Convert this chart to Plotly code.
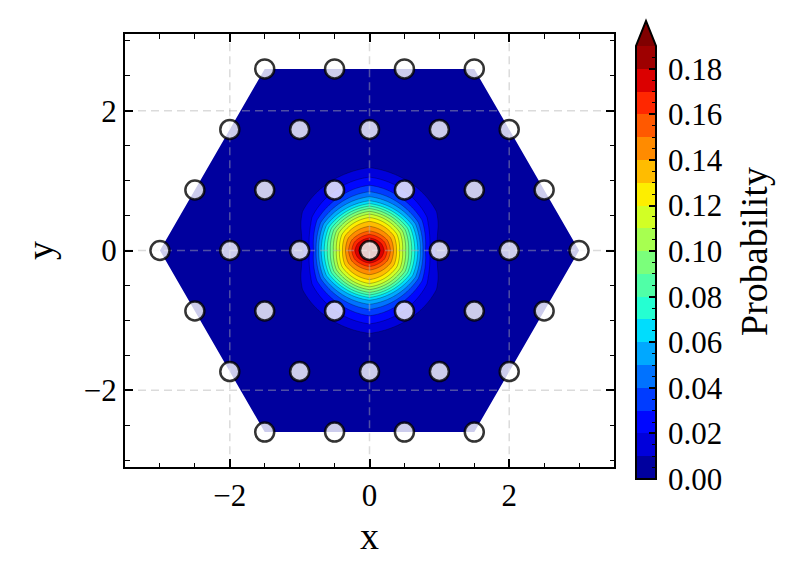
import numpy as np
import plotly.graph_objects as go

# lattice sites (triangular lattice, spacing 1, hexagon of radius 3)
site_x = [-1.5, -0.5, 0.5, 1.5,
          -2.0, -1.0, 0.0, 1.0, 2.0,
          -2.5, -1.5, -0.5, 0.5, 1.5, 2.5,
          -3.0, -2.0, -1.0, 0.0, 1.0, 2.0, 3.0,
          -2.5, -1.5, -0.5, 0.5, 1.5, 2.5,
          -2.0, -1.0, 0.0, 1.0, 2.0,
          -1.5, -0.5, 0.5, 1.5]
site_y = [2.598] * 4 + [1.732] * 5 + [0.866] * 6 + [0.0] * 7 + \
         [-0.866] * 6 + [-1.732] * 5 + [-2.598] * 4

# hexagonal sample region
hex_x = [-3.0, -1.5, 1.5, 3.0, 1.5, -1.5, -3.0]
hex_y = [0.0, 2.598, 2.598, 0.0, -2.598, -2.598, 0.0]

# probability read off the picture along two cuts through the centre
# (horizontal cut and vertical cut)
prof_r = [0.0, 0.1, 0.2, 0.3, 0.4, 0.5, 0.6, 0.7, 0.8, 0.9, 1.0, 1.1, 1.2, 1.5, 2.0, 3.0, 4.0]
prof_h = [0.198, 0.189, 0.172, 0.150, 0.127, 0.104, 0.081, 0.058, 0.030, 0.013, 0.006,
          0.004, 0.003, 0.003, 0.002, 0.001, 0.001]
prof_v = [0.198, 0.187, 0.166, 0.146, 0.133, 0.115, 0.090, 0.062, 0.045, 0.033, 0.024,
          0.016, 0.009, 0.004, 0.002, 0.001, 0.001]

level_step = 0.01
level_top = 0.19
cbar_ticks = [0.00, 0.02, 0.04, 0.06, 0.08, 0.10, 0.12, 0.14, 0.16, 0.18]

FONT = "Liberation Serif, DejaVu Serif, serif"
W, H = 798, 580
OFF = 8                          # page body margin
L, R, T, B = 125, 656, 21, 479   # pixel box (page coords) used as paper


def px(x):
    return (x - L) / (R - L)


def py(y):
    return (B - y) / (B - T)


def jet(v):
    r = np.interp(v, [0, 0.35, 0.66, 0.89, 1], [0, 0, 1, 1, 0.5])
    g = np.interp(v, [0, 0.125, 0.375, 0.64, 0.91, 1], [0, 0, 1, 1, 0, 0])
    b = np.interp(v, [0, 0.11, 0.34, 0.65, 1], [0.5, 1, 1, 0, 0])
    return "rgb(%d,%d,%d)" % (round(r * 255), round(g * 255), round(b * 255))


nb = int(round(level_top / level_step))          # 19 bands
band_cols = [jet((k + 0.5) / nb) for k in range(nb)]
over_col = jet(1.0)

# colorscale for the filled contour (robust to where plotly samples each band)
cols = band_cols + [over_col]
n = len(cols)
cs = []
for k, c in enumerate(cols):
    lo = 0 if k == 0 else (k + 0.25) / n
    hi = 1 if k == n - 1 else (k + 1.25) / n
    cs += [[lo, c], [hi, c]]

# colorscale for the drawn colorbar
cs_bar = []
for k, c in enumerate(band_cols):
    cs_bar += [[k / nb, c], [(k + 1) / nb, c]]

# field on a grid: blend of the two cuts, with slightly hexagonal rings
gx = np.linspace(-3.5, 3.5, 351)
gy = np.linspace(-3.1, 3.1, 311)
XX, YY = np.meshgrid(gx, gy)
rr = np.hypot(XX, YY)
hx = np.maximum(np.abs(XX), np.maximum(np.abs(0.5 * XX + 0.866 * YY),
                                       np.abs(-0.5 * XX + 0.866 * YY)))
dd = 0.75 * rr + 0.25 * hx
w = np.abs(YY) / np.maximum(rr, 1e-9)
P = (1 - w) * np.interp(dd, prof_r, prof_h) + w * np.interp(dd / 0.967, prof_r, prof_v)
Z = P / level_step

fig = go.Figure()

fig.add_trace(go.Contour(
    x=gx, y=gy, z=Z, autocontour=False,
    contours=dict(start=0, end=nb, size=1, coloring="fill", showlines=False),
    colorscale=cs, showscale=False, line=dict(width=0), hoverinfo="skip",
))
fig.add_trace(go.Contour(
    x=gx, y=gy, z=Z, autocontour=False,
    contours=dict(start=1, end=nb, size=1, coloring="none"),
    line=dict(color="rgba(0,0,0,0.28)", width=1, smoothing=1), showscale=False,
    hoverinfo="skip",
))

# white mask outside the hexagon
mx = [-4, -4, 4, 4, -4, -4] + hex_x + [-4]
my = [0, -4, -4, 4, 4, 0] + hex_y + [0]
fig.add_trace(go.Scatter(x=mx, y=my, mode="lines", fill="toself", fillcolor="white",
                         line=dict(width=0), hoverinfo="skip", showlegend=False))

# dashed grid above the field
gl_x, gl_y = [], []
for v in [-2, 0, 2]:
    gl_x += [v, v, None]
    gl_y += [-3.1, 3.1, None]
    gl_x += [-3.5, 3.5, None]
    gl_y += [v, v, None]
fig.add_trace(go.Scatter(x=gl_x, y=gl_y, mode="lines", hoverinfo="skip", showlegend=False,
                         line=dict(color="rgba(175,175,175,0.45)", width=1.5, dash="8px,5px")))

fig.add_trace(go.Scatter(
    x=site_x, y=site_y, mode="markers", showlegend=False,
    marker=dict(size=19, color="rgba(255,255,255,0.8)",
                line=dict(color="rgba(0,0,0,0.8)", width=2.5)),
))

# colorbar as its own little axis
fig.add_trace(go.Heatmap(
    x=[0, 1], y=[k * level_step for k in range(nb + 1)],
    z=[[(k + 0.5)] for k in range(nb)], zmin=0, zmax=nb,
    colorscale=cs_bar, showscale=False, xaxis="x2", yaxis="y2", hoverinfo="skip",
))

ax_common = dict(showline=True, linecolor="black", linewidth=2, mirror="ticks",
                 ticks="inside", ticklen=8, tickwidth=1.5, tickcolor="black",
                 showgrid=False, zeroline=False,
                 tickfont=dict(family=FONT, size=31, color="black"))
minor = dict(dtick=0.5, ticks="inside", ticklen=4.5, tickwidth=1.2, tickcolor="black")

fig.update_layout(
    width=W, height=H,
    margin=dict(l=L - OFF, r=W - R + OFF, t=T - OFF, b=H - B + OFF),
    paper_bgcolor="white", plot_bgcolor="white",
    font=dict(family=FONT, color="black"),
    showlegend=False,
    xaxis=dict(domain=[px(125), px(614)], range=[-3.5, 3.5], dtick=2, minor=minor,
               **ax_common),
    yaxis=dict(domain=[py(467), py(34)], range=[-3.098, 3.098], dtick=2, minor=minor,
               **ax_common),
    xaxis2=dict(domain=[px(636), 1.0], range=[0, 1], anchor="y2", visible=False),
    yaxis2=dict(domain=[0.0, py(46)], range=[0, level_top], anchor="x2", side="right",
                tickvals=cbar_ticks, tickformat=".2f", ticks="inside", ticklen=7,
                tickwidth=1.5, tickcolor="black", showline=False, showgrid=False,
                zeroline=False, ticklabelstandoff=11,
                minor=dict(dtick=0.005, ticks="inside", ticklen=4, tickwidth=1.2,
                           tickcolor="black"),
                tickfont=dict(family=FONT, size=31, color="black")),
)

# extend arrow and outline of the colorbar
tri = "M %f %f L %f %f L %f %f Z" % (px(636), py(46), px(646), py(21), px(656), py(46))
fig.add_shape(type="path", path=tri, xref="paper", yref="paper",
              fillcolor=over_col, line=dict(width=0), layer="above")
outline = "M %f %f L %f %f L %f %f L %f %f L %f %f Z" % (
    px(636), py(479), px(656), py(479), px(656), py(46), px(646), py(21), px(636), py(46))
fig.add_shape(type="path", path=outline, xref="paper", yref="paper",
              line=dict(color="black", width=2), layer="above")

fig.add_annotation(text="x", x=px(369), y=py(536), xref="paper", yref="paper",
                   showarrow=False, xanchor="center", yanchor="middle",
                   font=dict(family=FONT, size=38, color="black"))
fig.add_annotation(text="y", x=px(40), y=py(251), xref="paper", yref="paper",
                   showarrow=False, xanchor="center", yanchor="middle", textangle=-90,
                   font=dict(family=FONT, size=38, color="black"))
fig.add_annotation(text="Probability", x=px(754), y=py(252), xref="paper", yref="paper",
                   showarrow=False, xanchor="center", yanchor="middle", textangle=-90,
                   font=dict(family=FONT, size=38, color="black"))

fig.write_html("out.html")
